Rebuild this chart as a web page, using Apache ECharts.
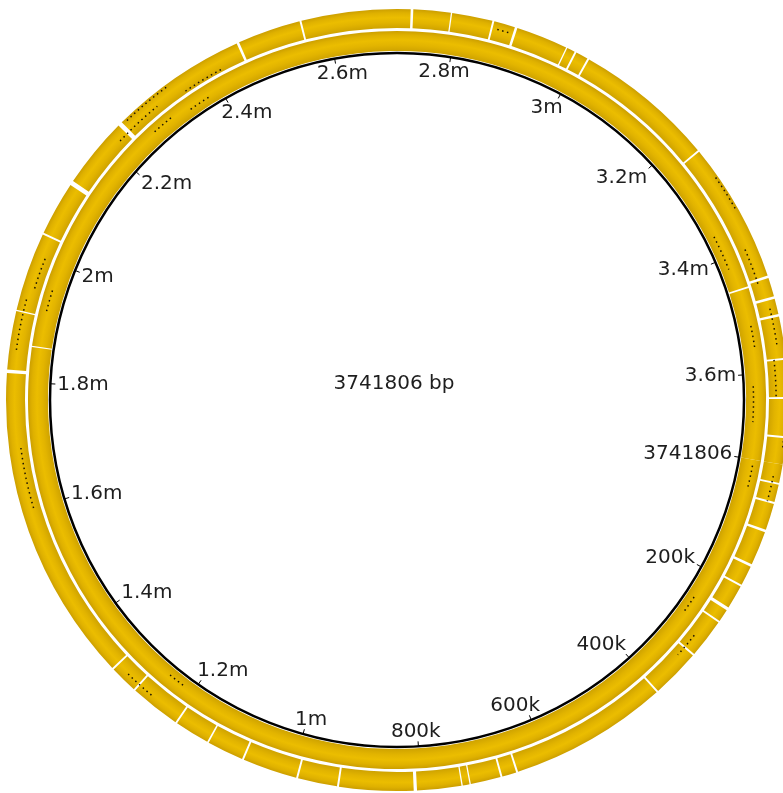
<!DOCTYPE html>
<html>
<head>
<meta charset="utf-8">
<script src="https://cdn.jsdelivr.net/npm/echarts@6/dist/echarts.min.js"></script>
<style>
  html, body { margin: 0; padding: 0; background: #ffffff; }
  #chart { width: 783px; height: 793px; }
</style>
</head>
<body>
<div id="chart"></div>
<script>
// Sequence length (bp) and backbone ticks
const genomeLength = 3741806;
const tickValues = [0, 200000, 400000, 600000, 800000, 1000000, 1200000, 1400000, 1600000,
  1800000, 2000000, 2200000, 2400000, 2600000, 2800000, 3000000, 3200000, 3400000, 3600000];
const tickLabels = ['3741806', '200k', '400k', '600k', '800k', '1m', '1.2m', '1.4m', '1.6m',
  '1.8m', '2m', '2.2m', '2.4m', '2.6m', '2.8m', '3m', '3.2m', '3.4m', '3.6m'];

// Features on the inner track [start, end]
const innerFeatures = [
  [0, 1858000], [1860000, 3456500], [3459500, 3741806]
];

// Features on the outer track [start, end]
const outerFeatures = [
  [0, 28500], [31500, 58500], [61500, 102600], [106600, 159600], [163600, 194300],
  [197300, 234200], [239200, 258900], [261900, 322500], [325500, 401200], [404200, 649200],
  [652200, 674100], [677100, 723500], [725500, 736000], [738000, 806200], [811200, 925500],
  [928500, 989100], [992100, 1076400], [1079400, 1136000], [1138500, 1192500], [1195500, 1273500],
  [1276500, 1319500], [1322500, 1813500], [1818500, 1909000], [1911000, 2032500], [2035500, 2119000],
  [2126000, 2235500], [2242500, 2456000], [2460000, 2557500], [2560500, 2728500], [2732500, 2790000],
  [2792000, 2854500], [2857500, 2890000], [2894000, 2974000], [2976000, 2988500], [2991500, 3010500],
  [3013500, 3230500], [3233500, 3450000], [3454000, 3483000], [3487000, 3511000], [3515000, 3578500],
  [3581500, 3638500], [3641500, 3698500], [3701500, 3741806]
];

// Dotted sub-feature outlines [start, end, lane] (lane 0 = innermost of 4)
const innerDotted = [
  [10000, 50000, 2], [250000, 280000, 1], [1220000, 1250000, 1], [1920000, 1960000, 2],
  [2270000, 2310000, 2], [2340000, 2380000, 1], [3360000, 3420000, 1], [3520000, 3560000, 2],
  [3620000, 3680000, 1]
];
const outerDotted = [
  [20000, 60000, 2], [300000, 340000, 1], [1250000, 1300000, 2], [1600000, 1700000, 1],
  [1850000, 1930000, 2], [1950000, 2000000, 1], [2220000, 2300000, 1], [2250000, 2330000, 3],
  [2350000, 2420000, 0], [2865000, 2885000, 2], [3280000, 3340000, 3], [3400000, 3460000, 1],
  [3500000, 3560000, 2], [3580000, 3640000, 1], [3660000, 3720000, 3]
];

const BACKBONE_R = 347;           // radius axis max, equals polar radius in px
const INNER_TRACK = [349, 369];
const OUTER_TRACK = [372, 391];
const LABEL_FONT = '20px "DejaVu Sans"';

const measureCtx = document.createElement('canvas').getContext('2d');
measureCtx.font = LABEL_FONT;

function dist(p, cs) {
  return Math.hypot(p[0] - cs.cx, p[1] - cs.cy);
}
function angleAt(p, cs) {
  return Math.atan2(p[1] - cs.cy, p[0] - cs.cx);
}

// Soft tube shading across the width of a track
function trackGradient(cs, r0, r1) {
  const R = r1 + 2;
  const at = t => (r0 + t * (r1 - r0)) / R;
  return {
    type: 'radial', x: cs.cx, y: cs.cy, r: R, global: true,
    colorStops: [
      { offset: 0, color: '#cfa300' },
      { offset: at(0.0), color: '#cfa300' },
      { offset: at(0.3), color: '#e2b400' },
      { offset: at(0.55), color: '#ebbd00' },
      { offset: at(0.8), color: '#dfb100' },
      { offset: at(1.0), color: '#cc9f00' },
      { offset: 1, color: '#cc9f00' }
    ]
  };
}

function trackSeries(features, track) {
  return {
    type: 'custom',
    coordinateSystem: 'polar',
    silent: true,
    data: features,
    renderItem(params, api) {
      const cs = params.coordSys;
      const s = api.value(0), e = api.value(1);
      const pIn = api.coord([track[0], s]);
      const pOut = api.coord([track[1], s]);
      const pEnd = api.coord([track[1], e]);
      const a0 = angleAt(pOut, cs);
      let a1 = angleAt(pEnd, cs);
      if (a1 <= a0) a1 += Math.PI * 2;
      return {
        type: 'sector',
        shape: { cx: cs.cx, cy: cs.cy, r0: dist(pIn, cs), r: dist(pOut, cs),
                 startAngle: a0, endAngle: a1, clockwise: true },
        style: { fill: trackGradient(cs, dist(pIn, cs), dist(pOut, cs)) }
      };
    }
  };
}

function dottedSeries(items, track) {
  return {
    type: 'custom',
    coordinateSystem: 'polar',
    silent: true,
    z: 3,
    data: items,
    renderItem(params, api) {
      const s = api.value(0), e = api.value(1), lane = api.value(2);
      const r = track[0] + (lane + 0.5) * (track[1] - track[0]) / 4;
      const pts = [];
      const n = 40;
      for (let i = 0; i <= n; i++) pts.push(api.coord([r, s + (e - s) * i / n]));
      return {
        type: 'polyline',
        shape: { points: pts },
        style: { stroke: '#1a1200', lineWidth: 1.5, lineDash: [1.5, 3.5], fill: null }
      };
    }
  };
}

const labelSeries = {
  type: 'custom',
  coordinateSystem: 'polar',
  silent: true,
  z: 4,
  data: tickValues.map((v, i) => [v, i]),
  renderItem(params, api) {
    const cs = params.coordSys;
    const v = api.value(0);
    const text = tickLabels[api.value(1)];
    const p = api.coord([BACKBONE_R, v]);
    const d = dist(p, cs);
    const ux = (p[0] - cs.cx) / d, uy = (p[1] - cs.cy) / d;
    const margin = 7;
    const w = measureCtx.measureText(text).width;
    const h = 16;
    const clamp = x => Math.max(-1, Math.min(1, x));
    const ax = clamp(ux * 1.4), ay = clamp(uy * 1.4);
    const x = p[0] - ux * margin - ax * w / 2;
    const y = p[1] - uy * margin - ay * h / 2;
    return {
      type: 'text',
      x: x, y: y,
      style: { text: text, font: LABEL_FONT, fill: '#1e1e1e', align: 'center', verticalAlign: 'middle' }
    };
  }
};

const chart = echarts.init(document.getElementById('chart'));
chart.setOption({
  animation: false,
  backgroundColor: '#ffffff',
  polar: { center: [397, 400], radius: [0, BACKBONE_R] },
  angleAxis: {
    type: 'value', min: 0, max: genomeLength, interval: 200000,
    startAngle: -9.5, clockwise: true,
    axisLine: { show: true, lineStyle: { color: '#000000', width: 2.5 } },
    axisTick: { show: true, inside: true, length: 5, lineStyle: { color: '#000000', width: 1 } },
    axisLabel: { show: false },
    splitLine: { show: false },
    splitArea: { show: false }
  },
  radiusAxis: {
    type: 'value', min: 0, max: BACKBONE_R,
    axisLine: { show: false }, axisTick: { show: false }, axisLabel: { show: false },
    splitLine: { show: false }, splitArea: { show: false }
  },
  graphic: [{
    type: 'text', x: 394, y: 384,
    style: { text: '3741806 bp', font: LABEL_FONT, fill: '#1e1e1e', align: 'center', verticalAlign: 'middle' }
  }],
  series: [
    trackSeries(innerFeatures, INNER_TRACK),
    trackSeries(outerFeatures, OUTER_TRACK),
    dottedSeries(innerDotted, INNER_TRACK),
    dottedSeries(outerDotted, OUTER_TRACK),
    labelSeries
  ]
});
</script>
</body>
</html>
